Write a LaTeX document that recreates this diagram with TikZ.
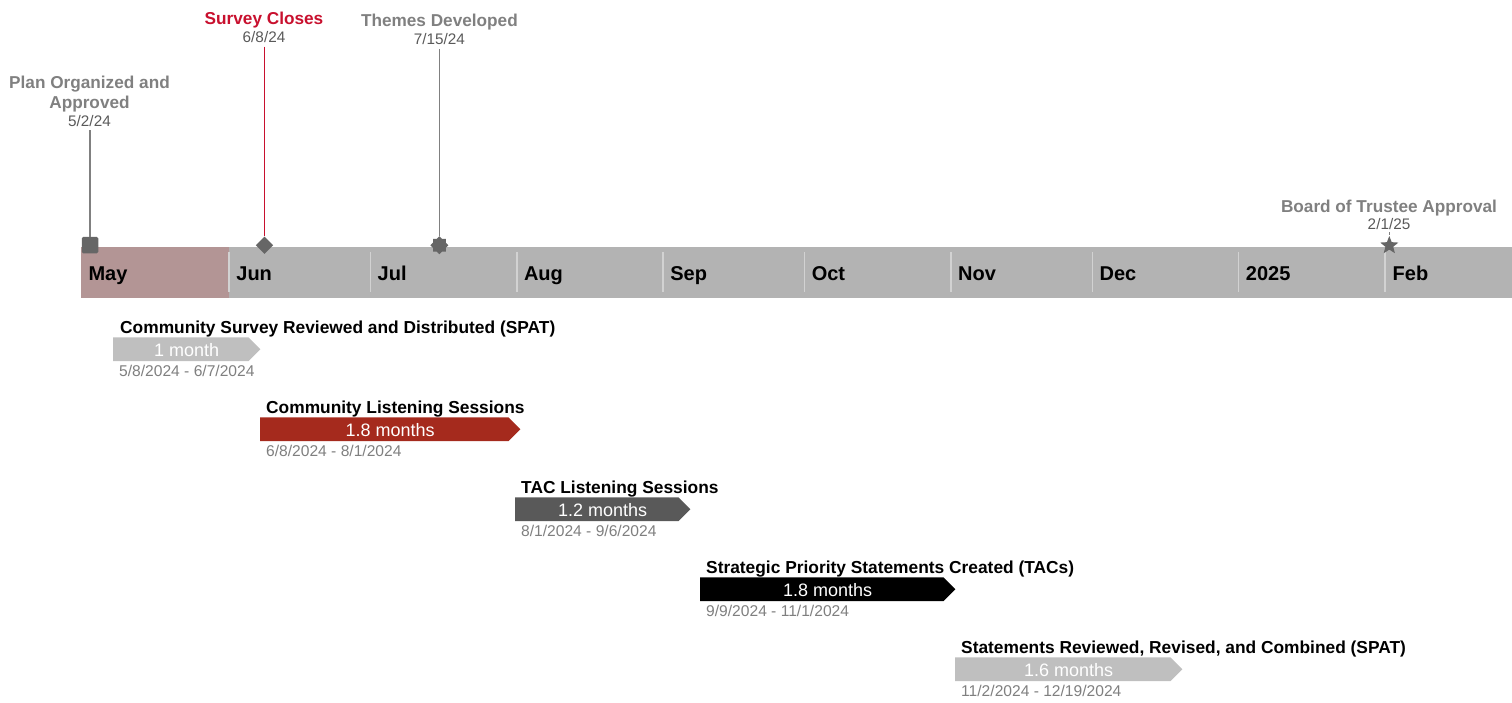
\documentclass[tikz,border=0pt]{standalone}
\usepackage{fontspec}
\setmainfont{Liberation Sans}
\usetikzlibrary{shapes.geometric}
\definecolor{bargray}{HTML}{B3B3B3}
\definecolor{mayred}{HTML}{B39595}
\definecolor{sepgray}{HTML}{D2D2D2}
\definecolor{markgray}{HTML}{666666}
\definecolor{msgray}{HTML}{808080}
\definecolor{msdategray}{HTML}{595959}
\definecolor{msred}{HTML}{C8102E}
\definecolor{lightbar}{HTML}{BFBFBF}
\definecolor{redbar}{HTML}{A52A1D}
\definecolor{darkbar}{HTML}{595959}
\definecolor{rangegray}{HTML}{7F7F7F}
\begin{document}
\begin{tikzpicture}[x=1pt,y=-1pt,
  mstitle/.style={font=\fontsize{17.2}{20}\selectfont\bfseries, text=msgray, inner sep=0pt, anchor=base},
  msdate/.style={font=\fontsize{15.3}{18}\selectfont, text=msdategray, inner sep=0pt, anchor=base},
  monthlbl/.style={font=\fontsize{20}{24}\selectfont\bfseries, text=black, inner sep=0pt, anchor=base west},
  tasktitle/.style={font=\fontsize{17.35}{20}\selectfont\bfseries, text=black, inner sep=0pt, anchor=base west},
  taskdate/.style={font=\fontsize{15.6}{18}\selectfont, text=rangegray, inner sep=0pt, anchor=base west},
  barbody/.style={rectangle, inner sep=0pt, minimum height=23.4pt, anchor=north west},
  bartext/.style={font=\fontsize{18}{21}\selectfont, text=white, inner sep=0pt, anchor=base},
  sepline/.style={draw=sepgray, line width=1.5pt},
  msline/.style={draw=msgray, line width=1.5pt},
  marker/.style={fill=markgray, inner sep=0pt},
]
\useasboundingbox (0,0) rectangle (1512,702);

% timeline bar
\fill[bargray] (80.7,246.7) rectangle (1512,297.7);
\fill[mayred] (80.7,246.7) rectangle (229,297.7);
\foreach \x in {229,370.5,516.8,663.1,804.6,950.9,1092.4,1238.7,1385}
  \draw[sepline] (\x,252) -- (\x,292);
\node[monthlbl] (mmay) at (88.3,280) {May};
\node[monthlbl] (mjun) at (236.2,280) {Jun};
\node[monthlbl] (mjul) at (377.5,280) {Jul};
\node[monthlbl] (maug) at (523.8,280) {Aug};
\node[monthlbl] (msep) at (670.1,280) {Sep};
\node[monthlbl] (moct) at (811.6,280) {Oct};
\node[monthlbl] (mnov) at (957.9,280) {Nov};
\node[monthlbl] (mdec) at (1099.4,280) {Dec};
\node[monthlbl] (m2025) at (1245.7,280) {2025};
\node[monthlbl] (mfeb) at (1392.5,280) {Feb};

% milestones
\node[mstitle] (plant1) at (89.5,88.8) {Plan Organized and};
\node[mstitle] (plant2) at (89.5,108.5) {Approved};
\node[msdate] (pland) at (89.5,126.4) {5/2/24};
\node[marker, rectangle, rounded corners=1.5pt, minimum size=16.5pt] (planm) at (90,245.2) {};
\draw[msline] ([yshift=-3.6pt]pland.base -| planm.north) -- (planm.north);

\node[mstitle, text=msred] (survt) at (264,24.8) {Survey Closes};
\node[msdate] (survd) at (264,42.7) {6/8/24};
\node[marker, diamond, minimum width=17.5pt, minimum height=17.5pt] (survm) at (264.5,245.2) {};
\draw[msline, draw=msred] ([yshift=-3.8pt]survd.base -| survm.north) -- (survm.north);

\node[mstitle] (themt) at (439.4,26.9) {Themes Developed};
\node[msdate] (themd) at (439.4,44.8) {7/15/24};
\node[marker, star, star points=8, star point ratio=1.3, minimum size=18pt] (themm) at (439.4,245.2) {};
\draw[msline] ([yshift=-4pt]themd.base -| themm.north) -- (themm.north);

\node[mstitle] (boardt) at (1389,212.3) {Board of Trustee Approval};
\node[msdate] (boardd) at (1389,229.3) {2/1/25};
\node[marker, star, star points=5, star point ratio=2.3, minimum size=19pt] (boardm) at (1389.3,245.5) {};
\draw[msline, line width=1pt] ([yshift=-3pt]boardd.base -| boardm.north) -- (boardm.north);

% tasks
\node[tasktitle] (t1) at (120,333) {Community Survey Reviewed and Distributed (SPAT)};
\node[barbody, minimum width=135pt] (b1) at (113,337.3) {};
\fill[lightbar] (b1.north west) -- (b1.north east) -- ([xshift=12pt]b1.east) -- (b1.south east) -- (b1.south west) -- cycle;
\node[bartext] (b1t) at ([xshift=6pt,yshift=-6.8pt]b1.center) {1 month};
\node[taskdate] (d1) at (119,376) {5/8/2024 - 6/7/2024};

\node[tasktitle] (t2) at (266,413) {Community Listening Sessions};
\node[barbody, minimum width=248pt] (b2) at (260,417.3) {};
\fill[redbar] (b2.north west) -- (b2.north east) -- ([xshift=12pt]b2.east) -- (b2.south east) -- (b2.south west) -- cycle;
\node[bartext] (b2t) at ([xshift=6pt,yshift=-6.8pt]b2.center) {1.8 months};
\node[taskdate] (d2) at (266,456) {6/8/2024 - 8/1/2024};

\node[tasktitle] (t3) at (521,493) {TAC Listening Sessions};
\node[barbody, minimum width=163pt] (b3) at (515,497.3) {};
\fill[darkbar] (b3.north west) -- (b3.north east) -- ([xshift=12pt]b3.east) -- (b3.south east) -- (b3.south west) -- cycle;
\node[bartext] (b3t) at ([xshift=6pt,yshift=-6.8pt]b3.center) {1.2 months};
\node[taskdate] (d3) at (521,536) {8/1/2024 - 9/6/2024};

\node[tasktitle] (t4) at (706,573) {Strategic Priority Statements Created (TACs)};
\node[barbody, minimum width=243pt] (b4) at (700,577.3) {};
\fill[black] (b4.north west) -- (b4.north east) -- ([xshift=12pt]b4.east) -- (b4.south east) -- (b4.south west) -- cycle;
\node[bartext] (b4t) at ([xshift=6pt,yshift=-6.8pt]b4.center) {1.8 months};
\node[taskdate] (d4) at (706,616) {9/9/2024 - 11/1/2024};

\node[tasktitle] (t5) at (961,653) {Statements Reviewed, Revised, and Combined (SPAT)};
\node[barbody, minimum width=215pt] (b5) at (955,657.3) {};
\fill[lightbar] (b5.north west) -- (b5.north east) -- ([xshift=12pt]b5.east) -- (b5.south east) -- (b5.south west) -- cycle;
\node[bartext] (b5t) at ([xshift=6pt,yshift=-6.8pt]b5.center) {1.6 months};
\node[taskdate] (d5) at (961,696) {11/2/2024 - 12/19/2024};
\end{tikzpicture}
\end{document}
